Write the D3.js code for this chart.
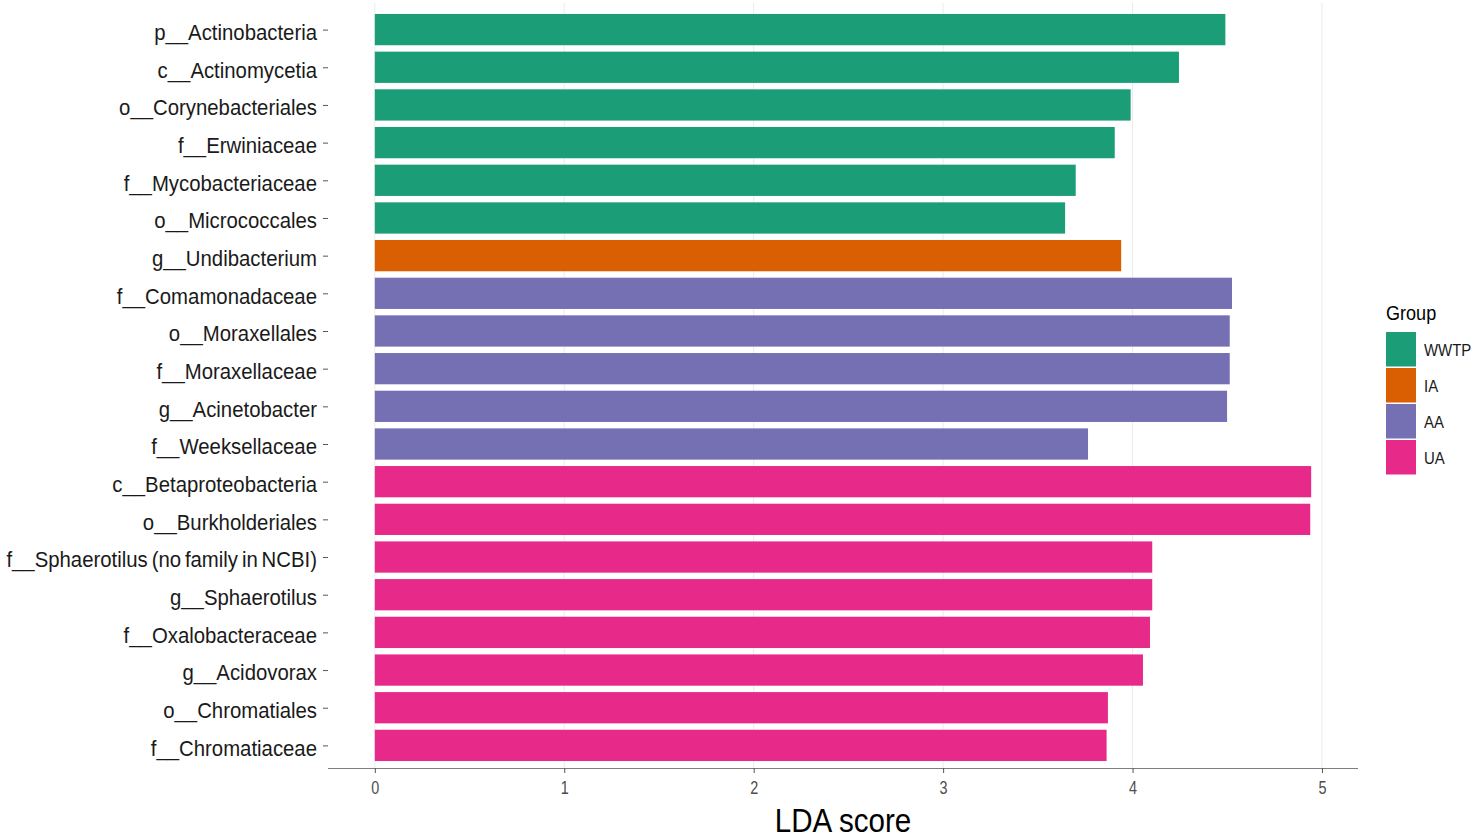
<!DOCTYPE html>
<html>
<head>
<meta charset="utf-8">
<script src="https://cdn.jsdelivr.net/npm/d3@7"></script>
<style>
  html, body { margin: 0; padding: 0; background: #fff; }
  svg { display: block; }
  text { font-family: "Liberation Sans", Arial, sans-serif; }
</style>
</head>
<body>
<svg id="chart" width="1479" height="840"></svg>
<script>
// Taxa listed from top to bottom, with their LDA scores and enriched group
const taxa = [
  "p__Actinobacteria", "c__Actinomycetia", "o__Corynebacteriales", "f__Erwiniaceae",
  "f__Mycobacteriaceae", "o__Micrococcales", "g__Undibacterium", "f__Comamonadaceae",
  "o__Moraxellales", "f__Moraxellaceae", "g__Acinetobacter", "f__Weeksellaceae",
  "c__Betaproteobacteria", "o__Burkholderiales", "f__Sphaerotilus (no family in NCBI)",
  "g__Sphaerotilus", "f__Oxalobacteraceae", "g__Acidovorax", "o__Chromatiales", "f__Chromatiaceae"
];
const ldaScores = [
  4.49, 4.245, 3.99, 3.906,
  3.70, 3.644, 3.94, 4.525,
  4.513, 4.513, 4.499, 3.765,
  4.943, 4.938, 4.104,
  4.104, 4.092, 4.055, 3.87, 3.863
];
const taxonGroups = [
  "WWTP", "WWTP", "WWTP", "WWTP",
  "WWTP", "WWTP", "IA", "AA",
  "AA", "AA", "AA", "AA",
  "UA", "UA", "UA",
  "UA", "UA", "UA", "UA", "UA"
];
const groupNames = ["WWTP", "IA", "AA", "UA"];
const groupColors = ["#1b9e77", "#d95f02", "#7570b3", "#e7298a"];
const xTicks = [0, 1, 2, 3, 4, 5];

const rows = taxa.map((t, i) => ({ taxon: t, score: ldaScores[i], group: taxonGroups[i] }));

const svg = d3.select("#chart");
const panel = { left: 328, right: 1358, top: 7, bottom: 768 };

// condensed lettering: squeeze text horizontally around its anchor point
function condense(sel, sx) {
  sel.each(function () {
    const t = d3.select(this);
    const x0 = +t.attr("x") || 0;
    const y0 = +t.attr("y") || 0;
    t.attr("transform", `translate(${x0},${y0}) scale(${sx},1)`)
      .attr("x", 0).attr("y", 0);
  });
}

// x scale with ggplot-style 5% expansion around [0, max]
const xMax = d3.max(ldaScores);
const pad = xMax * 0.05;
const x = d3.scaleLinear().domain([-pad, xMax + pad]).range([panel.left, panel.right]);

// discrete y with 0.6-unit expansion on each side
const n = taxa.length;
const step = (panel.bottom - panel.top) / (n - 1 + 1.2);
const y = d3.scalePoint().domain(taxa).range([panel.top + 0.6 * step, panel.bottom - 0.6 * step]);
const color = d3.scaleOrdinal().domain(groupNames).range(groupColors);
const barH = step * 0.83;

// vertical grid lines
svg.append("g").selectAll("line").data(xTicks).join("line")
  .attr("x1", d => x(d)).attr("x2", d => x(d))
  .attr("y1", panel.top - 4).attr("y2", panel.bottom)
  .attr("stroke", "#ebebeb").attr("stroke-width", 1);

// bars
svg.append("g").selectAll("rect").data(rows).join("rect")
  .attr("x", x(0))
  .attr("y", d => y(d.taxon) - barH / 2)
  .attr("width", d => x(d.score) - x(0))
  .attr("height", barH)
  .attr("fill", d => color(d.group));

// x axis
const xAxis = svg.append("g").attr("transform", `translate(0,${panel.bottom})`)
  .call(d3.axisBottom(x).tickValues(xTicks).tickSize(5).tickPadding(8).tickFormat(d3.format("d")));
xAxis.select(".domain").attr("d", `M${panel.left},0.5H${panel.right}`).attr("stroke", "#7f7f7f");
xAxis.selectAll(".tick line").attr("stroke", "#555");
xAxis.selectAll(".tick text").attr("fill", "#4d4d4d").style("font-size", "18px")
  .call(condense, 0.8);

// y axis (labels and short ticks, no axis line)
const yAxis = svg.append("g").attr("transform", `translate(${panel.left},0)`)
  .call(d3.axisLeft(y).tickSize(5).tickPadding(6));
yAxis.select(".domain").remove();
yAxis.selectAll(".tick line").attr("stroke", "#555");
yAxis.selectAll(".tick text").attr("fill", "#1a1a1a").style("font-size", "23px")
  .style("word-spacing", "-2px")
  .attr("dy", "0.38em").attr("y", 1)
  .call(condense, 0.885);

// x-axis title
svg.append("text")
  .attr("x", (panel.left + panel.right) / 2)
  .attr("y", 832)
  .attr("text-anchor", "middle")
  .style("font-size", "34px")
  .attr("fill", "#000")
  .text("LDA score")
  .call(condense, 0.87);

// legend
const legend = svg.append("g").attr("transform", "translate(1386,0)");
legend.append("text").attr("x", 0).attr("y", 320)
  .style("font-size", "21px").attr("fill", "#000").text("Group")
  .call(condense, 0.86);
const keyH = 36;
const items = legend.selectAll("g.key").data(groupNames).join("g")
  .attr("class", "key")
  .attr("transform", (d, i) => `translate(0,${332 + i * keyH})`);
items.append("rect").attr("width", 30).attr("height", keyH - 1.5)
  .attr("fill", d => color(d));
items.append("text").attr("x", 38).attr("y", keyH / 2 + 6)
  .style("font-size", "17px").attr("fill", "#1a1a1a").text(d => d)
  .call(condense, 0.88);
</script>
</body>
</html>
